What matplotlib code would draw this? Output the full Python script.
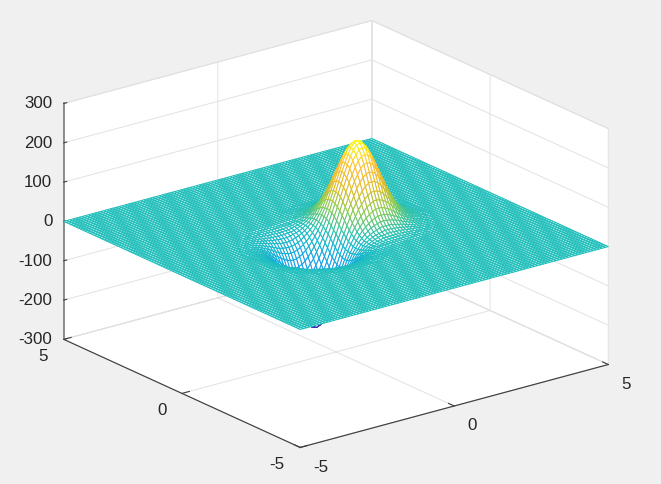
import numpy as np
import matplotlib
matplotlib.use("Agg")
import matplotlib.pyplot as plt
from matplotlib.colors import LinearSegmentedColormap

plt.rcParams['font.family'] = ['Liberation Sans', 'DejaVu Sans']
plt.rcParams['axes.unicode_minus'] = False

x_axis_values = np.arange(-50, 51) / 10
y_axis_values = np.arange(-50, 51) / 10

# lobe height, one quadrant: distance from lobe centre in 0.1 steps
lobe_quadrant = [
    [205,202,193,178,160,139,118,96,77,59,44,32,22,15,10,6,4,2,1],
    [202,199,190,176,158,137,116,95,75,58,43,31,22,15,10,6,4,2,1],
    [193,190,181,168,151,131,111,91,72,55,41,30,21,14,9,6,4,2,1],
    [178,176,168,155,139,122,103,84,67,51,38,28,19,13,9,6,3,2,1],
    [160,158,151,139,125,109,92,75,60,46,34,25,17,12,8,5,3,2,1],
    [139,137,131,122,109,95,80,66,52,40,30,22,15,10,7,4,3,2,1],
    [118,116,111,103,92,80,68,55,44,34,25,18,13,9,6,4,2,1,1],
    [96,95,91,84,75,66,55,45,36,28,21,15,10,7,5,3,2,1,1],
    [77,75,72,67,60,52,44,36,29,22,16,12,8,6,4,2,2,1,0],
    [59,58,55,51,46,40,34,28,22,17,13,9,6,4,3,2,1,1,0],
    [44,43,41,38,34,30,25,21,16,13,9,7,5,3,2,1,1,0,0],
    [32,31,30,28,25,22,18,15,12,9,7,5,3,2,2,1,1,0,0],
    [22,22,21,19,17,15,13,10,8,6,5,3,2,2,1,1,0,0,0],
    [15,15,14,13,12,10,9,7,6,4,3,2,2,1,1,0,0,0,0],
    [10,10,9,9,8,7,6,5,4,3,2,2,1,1,0,0,0,0,0],
    [6,6,6,6,5,4,4,3,2,2,1,1,1,0,0,0,0,0,0],
    [4,4,4,3,3,3,2,2,2,1,1,1,0,0,0,0,0,0,0],
    [2,2,2,2,2,2,1,1,1,1,0,0,0,0,0,0,0,0,0],
    [1,1,1,1,1,1,1,1,0,0,0,0,0,0,0,0,0,0,0],
]
peak_center = (1.0, 0.4)
dip_center = (-1.0, -0.4)

x_ticks = [-5, 0, 5]
y_ticks = [-5, 0, 5]
z_ticks = [-300, -200, -100, 0, 100, 200, 300]

parula_colors = [
    (0.2422, 0.1504, 0.6603), (0.2810, 0.3228, 0.9579), (0.20, 0.55, 0.95),
    (0.05, 0.65, 0.90), (0.12, 0.75, 0.74), (0.5044, 0.7993, 0.3480),
    (0.8634, 0.7406, 0.1596), (0.99, 0.74, 0.22), (0.9763, 0.9831, 0.0538),
]
parula = LinearSegmentedColormap.from_list('parula', parula_colors)

q = np.array(lobe_quadrant, dtype=float)
offs = np.abs(np.arange(-18, 19))
lobe = q[offs][:, offs]

X, Y = np.meshgrid(x_axis_values, y_axis_values)
Z = np.zeros_like(X)
def add_lobe(center, sign):
    ci = int(round((center[0] + 5) * 10))
    cj = int(round((center[1] + 5) * 10))
    Z[cj - 18:cj + 19, ci - 18:ci + 19] += sign * lobe
add_lobe(peak_center, 1)
add_lobe(dip_center, -1)

W, H = 661, 485
fig = plt.figure(figsize=(W / 100, H / 100), dpi=100, facecolor='#f0f0f0')
ax = fig.add_axes([0.7 / W, 14.8 / H, 653 / W, 458 / H], projection='3d')
ax.apply_aspect = lambda position=None: None
ax.set_proj_type('ortho')
ax.view_init(elev=30, azim=-127.5)
ax.set_box_aspect((1, 1, 1), zoom=1)
ax.set_facecolor('#f0f0f0')

cell_z = (Z[:-1, :-1] + Z[1:, :-1] + Z[:-1, 1:] + Z[1:, 1:]) / 4
zmax = np.abs(Z).max()
edge = parula((cell_z + zmax) / (2 * zmax))
white = np.ones(edge.shape)
surf = ax.plot_surface(X, Y, Z, rstride=1, cstride=1, facecolors=white, shade=False, linewidth=0.72)
surf.set_edgecolor(edge.reshape(-1, 4))

ax.set_xlim(-5, 5, view_margin=0)
ax.set_ylim(-5, 5, view_margin=0)
ax.set_zlim(-300, 300, view_margin=0)
ax.set_xticks(x_ticks)
ax.set_yticks(y_ticks)
ax.set_zticks(z_ticks)
for a, line_col, line_w, out in ((ax.xaxis, '#404040', 0.85, 0.3), (ax.yaxis, '#404040', 0.85, 0.3), (ax.zaxis, '#707070', 1.1, 0.12)):
    a.set_pane_color((1, 1, 1, 1))
    a.pane.set_edgecolor('#dcdcdc')
    a.pane.set_linewidth(0.7)
    a.line.set_color(line_col)
    a.line.set_linewidth(line_w)
    a._axinfo['grid'].update(color='#e2e2e2', linewidth=0.7)
    a._axinfo['tick'].update(inward_factor=0.0, outward_factor=out, linewidth={True: 0.8, False: 0.8}, color='#404040')
ax.zaxis.set_ticks_position('upper')
ax.tick_params(axis='both', labelsize=12.2, labelcolor='#262626', color='#404040')
ax.tick_params(axis='x', pad=3.5)
ax.tick_params(axis='y', pad=2.5)
ax.tick_params(axis='z', pad=-3.6)
plt.setp(ax.get_xticklabels(), ha='left', va='center')
plt.setp(ax.get_yticklabels(), ha='right', va='center')
plt.setp(ax.get_zticklabels(), ha='right', va='center')
fig.savefig('out.png', dpi=100, facecolor=fig.get_facecolor())
